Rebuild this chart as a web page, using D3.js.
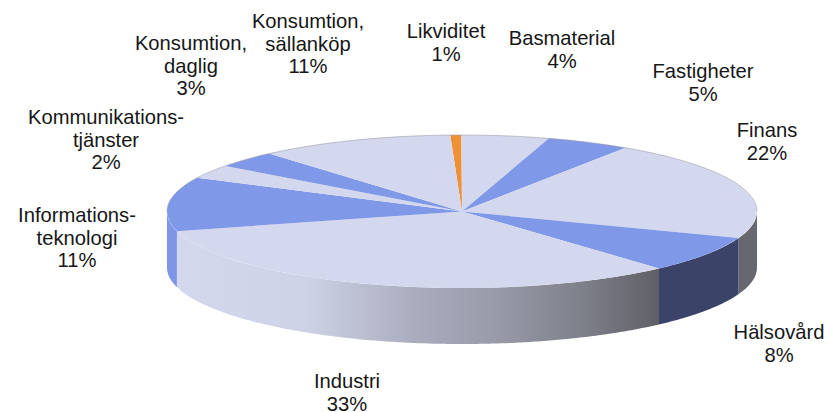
<!DOCTYPE html>
<html>
<head>
<meta charset="utf-8">
<script src="https://d3js.org/d3.v7.min.js"></script>
<style>
	html, body { margin: 0; padding: 0; background: #fff; }
	svg { display: block; }
	text { font-family: "Liberation Sans", Arial, sans-serif; font-size: 20.2px; fill: #161616; text-anchor: middle; }
</style>
</head>
<body>
<svg id="chart"></svg>
<script>
//Sectors, clockwise from the orange one at the top.
const categories = ['Likviditet', 'Basmaterial', 'Fastigheter', 'Finans', 'Hälsovård', 'Industri',
	'Informationsteknologi', 'Kommunikationstjänster', 'Konsumtion, daglig', 'Konsumtion, sällanköp'];
//Printed percentages.
const printed = [1, 4, 5, 22, 8, 33, 11, 2, 3, 11];
//Shares as drawn (they differ a bit from the printed ones).
const shares = [0.6, 4.8, 4.6, 21.3, 7.7, 32.5, 11.4, 2.9, 3.5, 10.7];
//Label lines, without the percentage.
const labelLines = [['Likviditet'], ['Basmaterial'], ['Fastigheter'], ['Finans'], ['Hälsovård'], ['Industri'],
	['Informations-', 'teknologi'], ['Kommunikations-', 'tjänster'], ['Konsumtion,', 'daglig'], ['Konsumtion,', 'sällanköp']];

const width = 828, height = 412;
const cx = 462, cy = 211.5, rx = 295, ry = 76.5, depth = 56;
const startAngle = -2.3 * Math.PI / 180;

//Layout of the labels: centre x and baseline of the first line.
const labelX = [446, 562, 703, 767, 779, 347, 77, 106, 191, 308];
const labelY = [38, 45, 78, 137, 339, 388, 222, 124, 50, 28];
const lineStep = 22.7;

const topColors = ['#ee9135', '#d3d8ee', '#8098e8', '#d3d8ee', '#8098e8', '#d3d8ee', '#8098e8', '#d3d8ee', '#8098e8', '#d3d8ee'];

const svg = d3.select('#chart').attr('width', width).attr('height', height);
const defs = svg.append('defs');

//Side wall gradients run horizontally in page coordinates.
function sideGradient(id, x1, x2, stops) {
	const g = defs.append('linearGradient').attr('id', id)
		.attr('gradientUnits', 'userSpaceOnUse')
		.attr('x1', x1).attr('x2', x2).attr('y1', 0).attr('y2', 0);
	stops.forEach(s => g.append('stop').attr('offset', s[0]).attr('stop-color', s[1]));
}
sideGradient('sideIndustri', 176, 658, [[0, '#d3d8ee'], [0.27, '#cdd2e6'], [0.5, '#a9acbd'], [0.65, '#9a9cab'], [0.85, '#7d7f89'], [1, '#5f6067']]);

const sideFills = {3: '#66676f', 4: '#3b4369', 5: 'url(#sideIndustri)', 6: '#7f96e6'};

const pie = d3.pie().sort(null).startAngle(startAngle).endAngle(startAngle + 2 * Math.PI);
const slices = pie(shares);

const px = d3.scaleLinear().domain([-1, 1]).range([cx - rx, cx + rx]);
const py = d3.scaleLinear().domain([-1, 1]).range([cy - ry, cy + ry]);
const rimLine = d3.line().x(a => px(Math.sin(a))).y(a => py(-Math.cos(a)));

//Front wall of a slice, clipped to the part that faces the viewer.
function wallPath(d) {
	const a0 = Math.max(d.startAngle, Math.PI / 2), a1 = Math.min(d.endAngle, 3 * Math.PI / 2);
	if (a1 <= a0) return null;
	const angles = d3.range(a0, a1, 0.01).concat([a1]);
	const top = rimLine(angles);
	const bottom = d3.line().x(a => px(Math.sin(a))).y(a => py(-Math.cos(a)) + depth)(angles.slice().reverse());
	return top + 'L' + bottom.slice(1) + 'Z';
}

const plot = svg.append('g').attr('id', 'pie');

plot.selectAll('path.wall').data(slices).join('path')
	.attr('class', 'wall')
	.attr('d', wallPath)
	.attr('fill', (d, i) => sideFills[i] || 'none');

//Top face: a unit pie squeezed into the ellipse.
const arc = d3.arc().innerRadius(0).outerRadius(1);
plot.append('g')
	.attr('transform', `translate(${cx},${cy}) scale(${rx},${ry})`)
	.selectAll('path').data(slices).join('path')
	.attr('class', 'top')
	.attr('d', arc)
	.attr('fill', (d, i) => topColors[i]);

//Thin grey rim along the back of the pie only.
plot.append('path')
	.attr('d', rimLine(d3.range(-Math.PI / 2, Math.PI / 2, 0.01)))
	.attr('fill', 'none').attr('stroke', '#a0a0aa').attr('stroke-width', 0.6);

const labels = svg.append('g').selectAll('text').data(categories).join('text')
	.attr('x', (d, i) => labelX[i])
	.attr('y', (d, i) => labelY[i]);
labels.each(function(d, i) {
	const lines = labelLines[i].concat([`${printed[i]}%`]);
	d3.select(this).selectAll('tspan').data(lines).join('tspan')
		.attr('x', labelX[i])
		.attr('dy', (t, j) => j === 0 ? 0 : lineStep)
		.text(t => t);
});
</script>
</body>
</html>
